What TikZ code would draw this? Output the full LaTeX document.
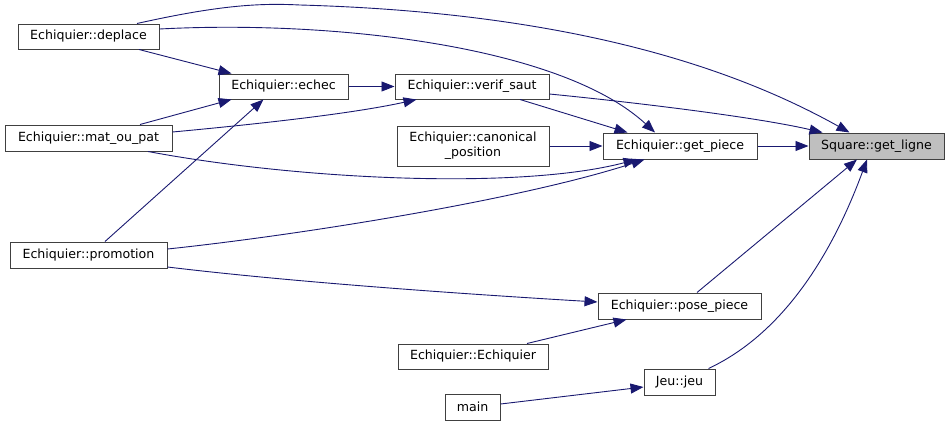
\documentclass[tikz,border=0pt]{standalone}
\usepackage{fontspec}
\setmainfont{DejaVu Sans}
\usetikzlibrary{arrows.meta}
\definecolor{callblue}{HTML}{191970}
\definecolor{boxline}{HTML}{404040}
\definecolor{curfill}{HTML}{BFBFBF}
\begin{document}
\begin{tikzpicture}[x=1pt,y=-1pt,
  fnbox/.style={draw=boxline, fill=white, line width=1pt, inner sep=0pt,
    font=\fontsize{12.6}{15}\selectfont, align=center},
  curbox/.style={fnbox, fill=curfill},
  callarr/.style={draw=callblue, line width=0.9pt, -{Triangle[length=13pt,width=10pt]}}]
\useasboundingbox (0,0) rectangle (949,426);
% Left column: callers
\node[fnbox, minimum width=141pt, minimum height=25pt] (deplace) at (88.5,36.5) {Echiquier::deplace};
\node[fnbox, minimum width=167pt, minimum height=26pt] (matoupat) at (88.5,138) {Echiquier::mat\_ou\_pat};
\node[fnbox, minimum width=157pt, minimum height=26pt] (promotion) at (88.5,255) {Echiquier::promotion};
\node[fnbox, minimum width=129pt, minimum height=25pt] (echec) at (283.5,86.5) {Echiquier::echec};
% Middle column
\node[fnbox, minimum width=154pt, minimum height=25pt] (verifsaut) at (472,86.5) {Echiquier::verif\_saut};
\node[fnbox, minimum width=152pt, minimum height=40pt] (canonpos) at (473,146) {Echiquier::canonical\\\_position};
\node[fnbox, minimum width=150pt, minimum height=25pt] (ctor) at (473,356.5) {Echiquier::Echiquier};
\node[fnbox, minimum width=55pt, minimum height=26pt] (mainfn) at (472.5,407) {main};
% Right columns
\node[fnbox, minimum width=154pt, minimum height=26pt] (getpiece) at (680,146) {Echiquier::get\_piece};
\node[fnbox, minimum width=163pt, minimum height=26pt] (posepiece) at (679.5,306) {Echiquier::pose\_piece};
\node[fnbox, minimum width=71pt, minimum height=26pt] (jeu) at (679.5,382) {Jeu::jeu};
\node[curbox, minimum width=135pt, minimum height=26pt] (getligne) at (876.5,146) {Square::get\_ligne};
% Calls from deplace
\draw[callarr] ([xshift=48.5pt]deplace.north) .. controls (220,5) and (260,3) .. (300,5)
  .. controls (550,12) and (720,60) .. ([xshift=41pt]getligne.north west);
\draw[callarr] ([yshift=7.5pt]deplace.east) .. controls (330,20) and (560,45) .. ([xshift=-25pt]getpiece.north);
\draw[callarr] ([xshift=50.5pt]deplace.south) -- ([xshift=13pt]echec.north west);
% Calls from mat_ou_pat
\draw[callarr] ([xshift=51.5pt]matoupat.north) -- ([xshift=13pt]echec.south west);
\draw[callarr] ([yshift=6pt]matoupat.east) .. controls (280,122) and (360,112) .. ([xshift=22pt]verifsaut.south west);
\draw[callarr] ([xshift=59.5pt]matoupat.south) .. controls (300,180) and (520,190) .. ([xshift=34pt]getpiece.south west);
% Calls from promotion
\draw[callarr] ([xshift=16.5pt]promotion.north) -- ([xshift=-20pt]echec.south);
\draw[callarr] ([yshift=6pt]promotion.east) .. controls (300,235) and (520,200) .. ([xshift=42pt]getpiece.south west);
\draw[callarr] ([yshift=-12pt]promotion.east) .. controls (300,283) and (480,295) .. ([yshift=4pt]posepiece.west);
% Middle calls
\draw[callarr] (echec) -- (verifsaut);
\draw[callarr] ([xshift=48pt]verifsaut.south) -- ([xshift=25pt]getpiece.north west);
\draw[callarr] ([yshift=-7.5pt]verifsaut.east) .. controls (650,104) and (760,118) .. ([xshift=14pt]getligne.north west);
\draw[callarr] (canonpos) -- (getpiece);
\draw[callarr] (getpiece) -- (getligne);
\draw[callarr] ([xshift=17.5pt]posepiece.north) -- ([xshift=-19.5pt]getligne.south);
\draw[callarr] ([xshift=54pt]ctor.north) -- ([xshift=29pt]posepiece.south west);
\draw[callarr] ([xshift=-7pt]jeu.north east) .. controls (780,335) and (830,260) .. ([xshift=-9.5pt]getligne.south);
\draw[callarr] ([yshift=3pt]mainfn.east) -- ([yshift=-5pt]jeu.west);
\end{tikzpicture}
\end{document}
